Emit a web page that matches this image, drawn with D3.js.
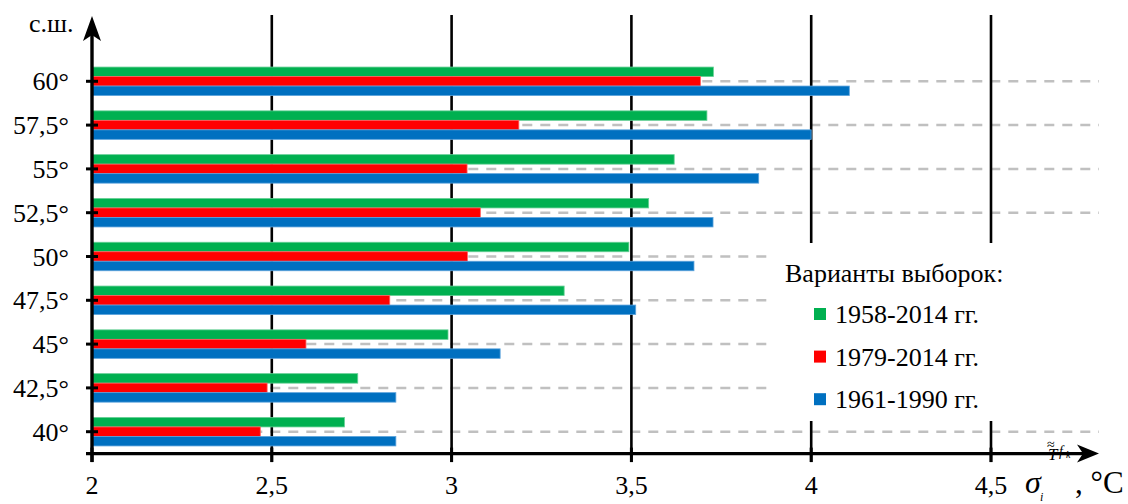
<!DOCTYPE html>
<html>
<head>
<meta charset="utf-8">
<script src="https://cdn.jsdelivr.net/npm/d3@7"></script>
<style>
  html, body { margin: 0; padding: 0; background: #fff; }
  svg { display: block; }
</style>
</head>
<body>
<svg id="chart" width="1128" height="504" font-family="'Liberation Serif', Tinos, 'Times New Roman', 'DejaVu Serif', serif"></svg>
<script>
// Latitude categories (top to bottom) and the three sampling variants
const categories = ["60°", "57,5°", "55°", "52,5°", "50°", "47,5°", "45°", "42,5°", "40°"];
const seriesNames = ["1958-2014 гг.", "1979-2014 гг.", "1961-1990 гг."];
const values1958 = [3.728, 3.710, 3.619, 3.548, 3.493, 3.313, 2.990, 2.739, 2.702];
const values1979 = [3.692, 3.187, 3.043, 3.080, 3.044, 2.828, 2.595, 2.487, 2.468];
const values1961 = [4.106, 4.000, 3.854, 3.727, 3.674, 3.512, 3.135, 2.845, 2.845];
const xTicks = [2, 2.5, 3, 3.5, 4, 4.5];
const seriesColors = ["#00b050", "#ff0000", "#0070c0"];
const seriesEdges = ["#66d096", "#ff6060", "#5ca3dc"];
const legendTitle = "Варианты выборок:";

const seriesValues = [values1958, values1979, values1961];

const svg = d3.select("#chart");

// Plot frame
const plotLeft = 92, plotRight = 991, plotTop = 59.4, plotBottom = 453.6;
const axisTop = 15, axisEndX = 1099;

const x = d3.scaleLinear().domain([2, 4.5]).range([plotLeft, plotRight]);
const y = d3.scaleBand().domain(categories).range([plotTop, plotBottom]);
const barH = 9.5;
const ySub = d3.scaleBand().domain(seriesNames)
  .range([-1.5 * barH, 1.5 * barH]);
const yMid = d => y(d) + y.bandwidth() / 2;

const fmt = d => String(d).replace(".", ",");

// Dashed guide lines at each latitude
svg.append("g").selectAll("line")
  .data(categories)
  .join("line")
  .attr("x1", plotLeft).attr("x2", axisEndX)
  .attr("y1", yMid).attr("y2", yMid)
  .attr("stroke", "#c0c0c0")
  .attr("stroke-width", 2.5)
  .attr("stroke-dasharray", "10,8")
  .attr("stroke-dashoffset", 1.7);

// Vertical black grid lines at the value ticks
svg.append("g").selectAll("line")
  .data(xTicks.slice(1))
  .join("line")
  .attr("x1", d => x(d)).attr("x2", d => x(d))
  .attr("y1", axisTop).attr("y2", plotBottom + 8.5)
  .attr("stroke", "#000")
  .attr("stroke-width", 2.6);

// Bars
const rows = categories.map((c, i) => ({ c, vals: seriesValues.map(s => s[i]) }));
const groups = svg.append("g").selectAll("g")
  .data(rows)
  .join("g")
  .attr("transform", d => `translate(0,${yMid(d.c)})`);

groups.selectAll("rect")
  .data(d => d.vals.map((v, k) => ({ v, k })))
  .join("rect")
  .attr("x", x(2))
  .attr("y", d => ySub(seriesNames[d.k]))
  .attr("width", d => x(d.v) - x(2))
  .attr("height", ySub.bandwidth())
  .attr("fill", d => seriesColors[d.k])
  .attr("stroke", d => seriesEdges[d.k])
  .attr("stroke-width", 0.8);

// Legend (white box covers the grid behind it)
const lg = svg.append("g");
lg.append("rect")
  .attr("x", 768).attr("y", 243)
  .attr("width", 340).attr("height", 178)
  .attr("fill", "#fff");
lg.append("text")
  .attr("x", 785).attr("y", 282)
  .attr("font-size", 26)
  .text(legendTitle);
const items = lg.selectAll("g.item")
  .data(seriesNames)
  .join("g")
  .attr("class", "item")
  .attr("transform", (d, i) => `translate(0,${323 + i * 42.6})`);
items.append("rect")
  .attr("x", 814).attr("y", -15)
  .attr("width", 12).attr("height", 12)
  .attr("fill", (d, i) => seriesColors[i]);
items.append("text")
  .attr("x", 835).attr("y", 0)
  .attr("font-size", 26)
  .text(d => d);

// X axis line with arrow
svg.append("line")
  .attr("x1", 86).attr("x2", 1086)
  .attr("y1", plotBottom).attr("y2", plotBottom)
  .attr("stroke", "#000").attr("stroke-width", 3.4);
svg.append("path")
  .attr("d", `M${axisEndX},${plotBottom} L1077,${plotBottom - 9} L1083,${plotBottom} L1077,${plotBottom + 9} Z`)
  .attr("fill", "#000");

// X tick marks and labels
svg.append("g").selectAll("line")
  .data(xTicks)
  .join("line")
  .attr("x1", d => x(d)).attr("x2", d => x(d))
  .attr("y1", plotBottom - 6).attr("y2", plotBottom + 8.5)
  .attr("stroke", "#000").attr("stroke-width", 3);
svg.append("g").selectAll("text")
  .data(xTicks)
  .join("text")
  .attr("x", d => x(d)).attr("y", 494)
  .attr("text-anchor", "middle")
  .attr("font-size", 26)
  .text(fmt);

// Y axis line with arrow
svg.append("line")
  .attr("x1", plotLeft).attr("x2", plotLeft)
  .attr("y1", plotBottom + 8.5).attr("y2", 30)
  .attr("stroke", "#000").attr("stroke-width", 3.4);
svg.append("path")
  .attr("d", `M${plotLeft},${axisTop + 1} L${plotLeft - 9},41 L${plotLeft},35 L${plotLeft + 9},41 Z`)
  .attr("fill", "#000");

// Y tick marks and labels
svg.append("g").selectAll("line")
  .data(categories)
  .join("line")
  .attr("x1", plotLeft - 6).attr("x2", plotLeft + 6)
  .attr("y1", yMid).attr("y2", yMid)
  .attr("stroke", "#000").attr("stroke-width", 3);
svg.append("g").selectAll("text")
  .data(categories)
  .join("text")
  .attr("x", 69)
  .attr("y", d => yMid(d) + 9)
  .attr("text-anchor", "end")
  .attr("font-size", 26)
  .text(d => d);

// Axis titles
svg.append("text")
  .attr("x", 29).attr("y", 32)
  .attr("font-size", 26)
  .text("с.ш.");

// sigma_i with the T^(f_k) superscript (double tilde above T), then units
const xTitleParts = [
  { t: "σ", x: 1025, y: 493, size: 32, italic: true },
  { t: "i", x: 1040, y: 501, size: 12, italic: true },
  { t: "T", x: 1048, y: 460, size: 17, italic: true },
  { t: "≈", x: 1047, y: 449, size: 14, italic: false },
  { t: "f", x: 1059, y: 456, size: 14, italic: true },
  { t: "k", x: 1066, y: 458, size: 10, italic: true },
  { t: ", °C", x: 1075, y: 493, size: 31, italic: false }
];
svg.append("text")
  .selectAll("tspan")
  .data(xTitleParts)
  .join("tspan")
  .attr("x", d => d.x).attr("y", d => d.y)
  .attr("font-size", d => d.size)
  .attr("font-style", d => d.italic ? "italic" : "normal")
  .text(d => d.t);
</script>
</body>
</html>
